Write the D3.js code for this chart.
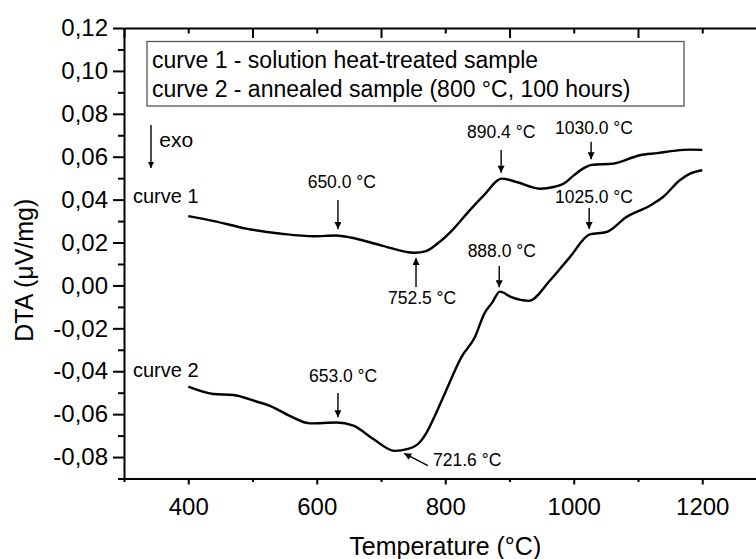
<!DOCTYPE html>
<html>
<head>
<meta charset="utf-8">
<script src="https://cdn.jsdelivr.net/npm/d3@7"></script>
<style>
  html, body { margin: 0; padding: 0; background: #fff; }
  svg { display: block; font-family: "Liberation Sans", Arial, sans-serif; }
  .axis path, .axis line { stroke: #000; stroke-width: 2; }
  .curve { fill: none; stroke: #000; stroke-width: 2.4; stroke-linejoin: round; }
  .arrow { stroke: #000; stroke-width: 1.4; }
</style>
</head>
<body>
<svg id="chart" width="756" height="559"></svg>
<script>
// DTA curves, temperature (°C) vs signal (µV/mg)
const curve1 = [
  [400, 0.0323], [440, 0.0300], [490, 0.0265], [545, 0.0241], [595, 0.0229],
  [630, 0.0233], [655, 0.0222], [700, 0.0187], [752, 0.0152], [770, 0.0160],
  [790, 0.0200], [813, 0.0264], [838, 0.0350], [860, 0.0420], [888, 0.0498],
  [911, 0.0482], [947, 0.0451], [970, 0.0460], [984, 0.0474], [1000, 0.0513],
  [1017, 0.0549], [1028, 0.0562], [1062, 0.0568], [1103, 0.0607], [1130, 0.0617],
  [1155, 0.0627], [1181, 0.0633], [1200, 0.0632]
];
const curve2 = [
  [400, -0.0472], [439, -0.0506], [470, -0.0511], [506, -0.0541], [527, -0.0561],
  [558, -0.0608], [590, -0.0643], [631, -0.0639], [657, -0.0654], [688, -0.0716],
  [721, -0.0771], [742, -0.0762], [760, -0.0732], [772, -0.0680], [785, -0.0600],
  [799, -0.0506], [825, -0.0335], [846, -0.0242], [861, -0.0130], [873, -0.0080],
  [885, -0.0029], [903, -0.0055], [930, -0.0072], [963, 0.0023], [994, 0.0132],
  [1025, 0.0238], [1051, 0.0249], [1082, 0.0319], [1119, 0.0373], [1139, 0.0412],
  [1165, 0.0490], [1181, 0.0521], [1200, 0.0537]
];

const xMajorTicks = [400, 600, 800, 1000, 1200];
const xMinorTicks = [300, 500, 700, 900, 1100, 1300];
const yMajorTicks = [-0.08, -0.06, -0.04, -0.02, 0, 0.02, 0.04, 0.06, 0.08, 0.10, 0.12];
const yMinorTicks = [-0.09, -0.07, -0.05, -0.03, -0.01, 0.01, 0.03, 0.05, 0.07, 0.09, 0.11];
const rightTicks = [-0.08, -0.04, 0, 0.04, 0.08];

const legendLines = [
  "curve 1 - solution heat-treated sample",
  "curve 2 - annealed sample (800 °C, 100 hours)"
];

// peak annotations: tail (x0,y0) -> tip (x1,y1), label at (tx,ty)
const peakLabels = ["650.0 °C", "752.5 °C", "890.4 °C", "1030.0 °C", "1025.0 °C", "888.0 °C", "653.0 °C", "721.6 °C"];
const peakArrows = [
  [633, 0.0398, 633, 0.0263],
  [754.5, -0.0007, 754.5, 0.0128],
  [887, 0.0631, 887, 0.0525],
  [1027, 0.0670, 1027, 0.0588],
  [1024, 0.0361, 1024, 0.0263],
  [884, 0.0090, 884, -0.0009],
  [633, -0.0502, 633, -0.0614],
  [773, -0.0840, 736, -0.0783]
];
const peakText = [
  [639, 0.0454], [764, -0.0087], [887, 0.0687], [1031.5, 0.0706],
  [1031.5, 0.0384], [888, 0.0132], [641, -0.0450], [781, -0.0842]
];

const curveLabels = [["curve 1", 314, 0.0384], ["curve 2", 314, -0.0427]];
const exoArrow = [342, 0.0748, 342, 0.0547];
const exoText = [355, 0.0645];

const svg = d3.select("#chart");
const x = d3.scaleLinear().domain([300, 1300]).range([124, 766.5]);
const y = d3.scaleLinear().domain([-0.09, 0.12]).range([478.5, 28]);

const fmt = v => (v < -1e-9 ? "-" : "") + Math.abs(v).toFixed(2).replace(".", ",");

const defs = svg.append("defs");
defs.append("marker")
  .attr("id", "head")
  .attr("viewBox", "0 0 10 10")
  .attr("refX", 10).attr("refY", 5)
  .attr("markerWidth", 9).attr("markerHeight", 7)
  .attr("markerUnits", "userSpaceOnUse")
  .attr("orient", "auto")
  .append("path").attr("d", "M0,0 L10,5 L0,10 Z").attr("fill", "#000");
defs.append("marker")
  .attr("id", "headLong")
  .attr("viewBox", "0 0 10 10")
  .attr("refX", 10).attr("refY", 5)
  .attr("markerWidth", 11).attr("markerHeight", 6)
  .attr("markerUnits", "userSpaceOnUse")
  .attr("orient", "auto")
  .append("path").attr("d", "M0,0 L10,5 L0,10 Z").attr("fill", "#000");

// --- Axes ---
const tickFont = g => g.selectAll("text")
  .attr("font-size", 24).attr("fill", "#000")
  .attr("font-family", "'Liberation Sans', Arial, sans-serif");

svg.append("g").attr("class", "axis")
  .attr("transform", `translate(0,${y(-0.09)})`)
  .call(d3.axisBottom(x).tickValues(xMajorTicks).tickSize(6).tickSizeOuter(0).tickPadding(13.5).tickFormat(d3.format("d")))
  .call(tickFont);
svg.append("g").attr("class", "axis")
  .attr("transform", `translate(0,${y(-0.09)})`)
  .call(d3.axisBottom(x).tickValues(xMinorTicks).tickSize(3.5).tickSizeOuter(0).tickFormat(""))
  .call(g => g.select(".domain").remove());

svg.append("g").attr("class", "axis")
  .attr("transform", `translate(0,${y(0.12)})`)
  .call(d3.axisTop(x).tickValues(xMinorTicks).tickSize(-10).tickSizeOuter(0).tickFormat(""));
svg.append("g").attr("class", "axis")
  .attr("transform", `translate(0,${y(0.12)})`)
  .call(d3.axisTop(x).tickValues(xMajorTicks).tickSize(-5.5).tickSizeOuter(0).tickFormat(""))
  .call(g => g.select(".domain").remove());

svg.append("g").attr("class", "axis")
  .attr("transform", `translate(${x(300)},0)`)
  .call(d3.axisLeft(y).tickValues(yMajorTicks).tickSize(11).tickSizeOuter(0).tickPadding(5).tickFormat(fmt))
  .call(tickFont);
svg.append("g").attr("class", "axis")
  .attr("transform", `translate(${x(300)},0)`)
  .call(d3.axisLeft(y).tickValues(yMinorTicks).tickSize(6).tickSizeOuter(0).tickFormat(""))
  .call(g => g.select(".domain").remove());

svg.append("g").attr("class", "axis")
  .attr("transform", `translate(${x(1300)},0)`)
  .call(d3.axisRight(y).tickValues(rightTicks).tickSize(-10.5).tickSizeOuter(0).tickFormat(""));

// axis titles
svg.append("text")
  .attr("x", (x(300) + x(1300)) / 2).attr("y", 555)
  .attr("text-anchor", "middle").attr("font-size", 25)
  .text("Temperature (°C)");
svg.append("text")
  .attr("transform", `translate(33,${(y(-0.09) + y(0.12)) / 2 + 17}) rotate(-90)`)
  .attr("text-anchor", "middle").attr("font-size", 25)
  .text("DTA (\u03BCV/mg)");

// --- Curves ---
const line = d3.line().x(d => x(d[0])).y(d => y(d[1])).curve(d3.curveMonotoneX);
svg.append("path").datum(curve1).attr("class", "curve").attr("d", line);
svg.append("path").datum(curve2).attr("class", "curve").attr("d", line);

// --- Legend ---
const legend = svg.append("g");
legend.append("rect")
  .attr("x", 147).attr("y", 41.5).attr("width", 537).attr("height", 64.5)
  .attr("fill", "#fff").attr("stroke", "#555").attr("stroke-width", 1.3);
legend.selectAll("text").data(legendLines).join("text")
  .attr("x", 152).attr("y", (d, i) => 68 + i * 28.5)
  .attr("font-size", 23).text(d => d);

// --- Annotations ---
svg.selectAll(".arrow").data(peakArrows).join("line")
  .attr("class", "arrow")
  .attr("x1", d => x(d[0])).attr("y1", d => y(d[1]))
  .attr("x2", d => x(d[2])).attr("y2", d => y(d[3]))
  .attr("marker-end", "url(#head)");

svg.selectAll(".peak").data(peakText).join("text")
  .attr("class", "peak")
  .attr("x", d => x(d[0])).attr("y", d => y(d[1]))
  .attr("text-anchor", (d, i) => i === peakText.length - 1 ? "start" : "middle")
  .attr("font-size", 17.5)
  .text((d, i) => peakLabels[i]);

svg.selectAll(".clabel").data(curveLabels).join("text")
  .attr("class", "clabel")
  .attr("x", d => x(d[1])).attr("y", d => y(d[2]))
  .attr("font-size", 20).text(d => d[0]);

svg.append("line").attr("class", "arrow")
  .attr("x1", x(exoArrow[0])).attr("y1", y(exoArrow[1]))
  .attr("x2", x(exoArrow[2])).attr("y2", y(exoArrow[3]))
  .attr("marker-end", "url(#headLong)");
svg.append("text")
  .attr("x", x(exoText[0])).attr("y", y(exoText[1]))
  .attr("font-size", 21).text("exo");
</script>
</body>
</html>
